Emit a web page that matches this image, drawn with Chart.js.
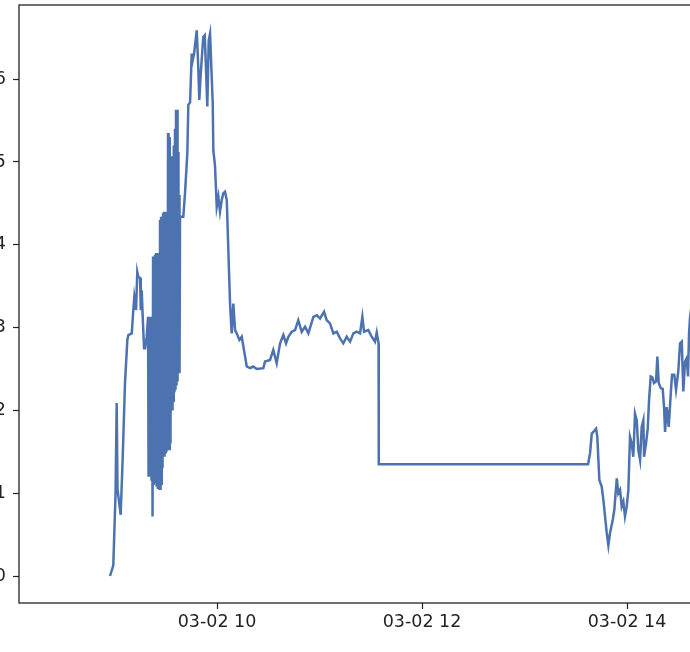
<!DOCTYPE html>
<html>
<head>
<meta charset="utf-8">
<script src="https://cdn.jsdelivr.net/npm/chart.js@4/dist/chart.umd.min.js"></script>
<style>
  html, body { margin: 0; padding: 0; width: 690px; height: 652px; overflow: hidden; background: #fff; }
  #chart { position: absolute; left: -41px; top: 0; }
</style>
</head>
<body>
<canvas id="chart" width="761" height="652"></canvas>
<script>
// time of day in hours (03-02), value at that time
const hours = [
  8.956, 8.988, 9.010, 9.021, 9.029, 9.060, 9.080, 9.102, 9.125, 9.135, 9.168, 9.183,
  9.193, 9.210, 9.222, 9.232, 9.249, 9.256, 9.265, 9.275, 9.288, 9.298, 9.314,
  9.327, 9.332, 9.337, 9.341, 9.346, 9.351, 9.356, 9.361, 9.366, 9.371, 9.376, 9.380,
  9.385, 9.390, 9.395, 9.400, 9.405, 9.410, 9.415, 9.420, 9.424, 9.429, 9.434, 9.439,
  9.444, 9.449, 9.454, 9.459, 9.463, 9.468, 9.473, 9.478, 9.483, 9.488, 9.493, 9.498,
  9.502, 9.507, 9.512, 9.517, 9.522, 9.527, 9.532, 9.537, 9.541, 9.546, 9.551, 9.556,
  9.561, 9.566, 9.571, 9.576, 9.580, 9.585, 9.590, 9.595, 9.600, 9.605, 9.610, 9.615,
  9.620, 9.624, 9.629, 9.634, 9.639,
  9.671, 9.688, 9.710, 9.720, 9.737, 9.753, 9.763, 9.776, 9.802, 9.818, 9.827, 9.841,
  9.866, 9.880, 9.893, 9.905, 9.919, 9.932, 9.941, 9.958, 9.964, 9.980, 9.997, 10.013,
  10.029, 10.046, 10.061, 10.078, 10.095, 10.127, 10.143, 10.159, 10.176, 10.192, 10.218,
  10.241, 10.257, 10.290, 10.322, 10.354, 10.387, 10.452, 10.468, 10.517, 10.549, 10.582,
  10.615, 10.647, 10.673, 10.696, 10.729, 10.761, 10.793, 10.826, 10.859, 10.891, 10.940,
  10.973, 11.005, 11.044, 11.070, 11.102, 11.135, 11.168, 11.200, 11.232, 11.265, 11.298,
  11.330, 11.363, 11.395, 11.418, 11.434, 11.476, 11.509, 11.541, 11.558, 11.576, 11.578,
  13.620, 13.639, 13.656, 13.671, 13.698, 13.710, 13.730, 13.753, 13.769, 13.802, 13.818,
  13.834, 13.861, 13.876, 13.900, 13.915, 13.932, 13.948, 13.964, 13.980, 13.997, 14.013,
  14.029, 14.046, 14.061, 14.078, 14.095, 14.110, 14.127, 14.143, 14.159, 14.166, 14.185,
  14.202, 14.215, 14.231, 14.247, 14.263, 14.283, 14.296, 14.309, 14.329, 14.348, 14.361,
  14.371, 14.387, 14.407, 14.426, 14.439, 14.461, 14.478, 14.500, 14.517, 14.534, 14.549,
  14.566, 14.582, 14.595, 14.605, 14.615, 14.634
];

const values = [
  0.00, 0.13, 1.00, 2.09, 1.05, 0.74, 1.44, 2.33, 2.85, 2.91, 2.93, 3.21,
  3.37, 3.21, 3.67, 3.61, 3.60, 3.21, 3.45, 3.13, 2.75, 2.75, 2.89,
  3.13, 1.20, 3.13, 1.20, 3.13, 1.20, 3.13, 1.15, 3.13, 0.72, 3.86, 1.10,
  3.86, 1.12, 3.88, 1.12, 3.90, 1.08, 3.90, 1.05, 3.90, 1.05, 3.90, 1.04,
  4.30, 1.04, 4.34, 1.10, 4.34, 1.30, 4.38, 1.44, 4.40, 1.44, 4.40, 1.48,
  4.40, 1.50, 4.40, 1.52, 5.35, 1.52, 5.30, 1.52, 5.20, 1.60, 5.07, 2.00,
  5.07, 2.00, 5.07, 2.10, 5.20, 2.22, 5.40, 2.25, 5.63, 2.30, 5.63, 2.35,
  5.12, 2.45, 4.60, 2.45, 4.34,
  4.34, 4.63, 5.10, 5.69, 5.72, 6.31, 6.23, 6.31, 6.59, 6.11, 5.75, 6.07,
  6.51, 6.53, 6.11, 5.67, 6.47, 6.55, 6.55, 5.71, 5.14, 4.96, 4.46, 4.58,
  4.40, 4.54, 4.62, 4.64, 4.54, 3.29, 2.93, 3.29, 2.97, 2.93, 2.85,
  2.89, 2.77, 2.53, 2.51, 2.53, 2.50, 2.51, 2.59, 2.61, 2.73, 2.57,
  2.81, 2.91, 2.81, 2.89, 2.95, 2.97, 3.09, 2.95, 3.01, 2.93, 3.13,
  3.15, 3.11, 3.19, 3.09, 3.05, 2.93, 2.95, 2.87, 2.81, 2.89, 2.83,
  2.93, 2.95, 2.93, 3.13, 2.95, 2.97, 2.89, 2.83, 2.94, 2.81, 1.35,
  1.35, 1.48, 1.72, 1.74, 1.78, 1.68, 1.16, 1.08, 0.92, 0.52, 0.37,
  0.52, 0.68, 0.80, 1.18, 1.00, 1.04, 0.84, 0.90, 0.72, 0.84, 1.04,
  1.68, 1.60, 1.44, 1.96, 1.88, 1.52, 1.40, 1.80, 1.88, 1.44, 1.60,
  1.78, 2.13, 2.41, 2.40, 2.33, 2.35, 2.65, 2.33, 2.27, 2.26, 2.04,
  1.74, 2.04, 1.80, 2.19, 2.43, 2.43, 2.25, 2.47, 2.81, 2.83, 2.23,
  2.59, 2.63, 2.41, 2.93, 3.13, 3.30
];

const xTicks = [10, 12, 14];
const xTickLabels = ["03-02 10", "03-02 12", "03-02 14"];
const yTicks = [0, 1, 2, 3, 4, 5, 6];

const ink = "#222";
const tickFont = { family: "DejaVu Sans", size: 17.5 };

const framePlugin = {
  id: "frame",
  afterDraw(chart) {
    const { ctx, chartArea: a } = chart;
    ctx.save();
    ctx.strokeStyle = ink;
    ctx.lineWidth = 1.3;
    ctx.strokeRect(a.left, a.top, a.right - a.left, a.bottom - a.top);
    ctx.restore();
  }
};

const noPad = (s) => {
  s.paddingTop = 0;
  s.paddingBottom = 0;
  s.paddingLeft = 0;
  s.paddingRight = 0;
};

new Chart(document.getElementById("chart"), {
  type: "line",
  data: {
    datasets: [{
      data: hours.map((h, i) => ({ x: h, y: values[i] })),
      borderColor: "#4C72B0",
      borderWidth: 2.5,
      pointRadius: 0,
      tension: 0,
      fill: false
    }]
  },
  options: {
    responsive: false,
    animation: false,
    events: [],
    layout: { padding: { top: 5, right: 0, bottom: 0, left: 0 } },
    plugins: { legend: { display: false }, tooltip: { enabled: false } },
    scales: {
      x: {
        type: "linear",
        min: 8.068,
        max: 14.907,
        afterFit: (s) => { s.height = 49; noPad(s); },
        afterBuildTicks: (s) => { s.ticks = xTicks.map((v) => ({ value: v })); },
        border: { display: false },
        grid: { drawOnChartArea: false, drawTicks: true, tickLength: 6, tickWidth: 1.2, tickColor: ink },
        ticks: {
          color: ink,
          font: tickFont,
          padding: 3,
          maxRotation: 0,
          callback: (v) => xTickLabels[xTicks.indexOf(v)]
        }
      },
      y: {
        min: -0.326,
        max: 6.896,
        afterFit: (s) => { s.width = 60; noPad(s); },
        afterBuildTicks: (s) => { s.ticks = yTicks.map((v) => ({ value: v })); },
        border: { display: false },
        grid: { drawOnChartArea: false, drawTicks: true, tickLength: 6, tickWidth: 1.2, tickColor: ink },
        ticks: { color: ink, font: tickFont, padding: 7 }
      }
    }
  },
  plugins: [framePlugin]
});
</script>
</body>
</html>
